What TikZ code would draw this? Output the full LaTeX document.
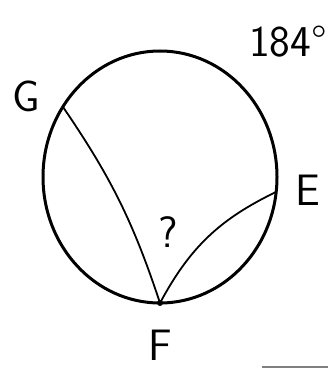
\documentclass[tikz,border=0pt]{standalone}
\usepackage{tikz}
\usetikzlibrary{positioning}

\begin{document}
\begin{tikzpicture}[
    x=1pt, y=-1pt,
    every node/.style={font=\sffamily\fontsize{44}{44}\selectfont},
    rim/.style={line width=3pt},
    chord/.style={line width=1.8pt}
  ]
    \useasboundingbox (0,0) rectangle (335,369);

    % circle and the points on it
    \coordinate (O) at (160,177);
    \draw[rim] (O) ellipse[x radius=117pt, y radius=126pt];
    \coordinate (G) at (63,107);
    \coordinate (E) at (276,192);
    \coordinate (F) at (160,303);

    \draw[chord] (G) to[bend left=8] (F);
    \draw[chord] (F) to[bend left=18] (E);
    \fill (F) circle (3pt);

    \node (labG) at (26,96) {G};
    \node (labE) at (308,190) {E};
    \node (labF) at (160,345) {F};
    \node (ques) at (168,232) {?};
    \node (arc) at (288,42) {184\textdegree};

    \coordinate (s1) at (262,367);
    \coordinate (s2) at (328,367);
    \draw[line width=1.5pt, gray] (s1) -- (s2);
\end{tikzpicture}
\end{document}
